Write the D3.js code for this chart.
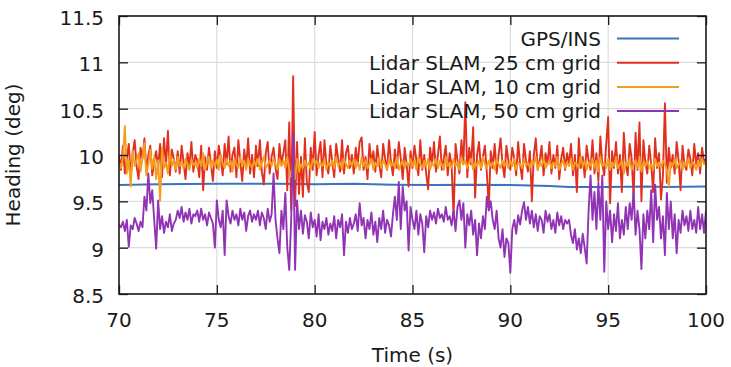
<!DOCTYPE html>
<html>
<head>
<meta charset="utf-8">
<script src="https://cdn.jsdelivr.net/npm/d3@7"></script>
<style>
  body { margin: 0; background: #fff; }
  text { font-family: "DejaVu Sans", sans-serif; fill: #1a1a1a; }
</style>
</head>
<body>
<script>
// chart size and plot box
const width = 731;
const height = 367;
const margin = { top: 16, right: 25, bottom: 73, left: 119 };

// samples every 0.1 s from 70 s to 100 s
const startTime = 70;
const sampleStep = 0.1;

const xTicks = [70, 75, 80, 85, 90, 95, 100];
const yTicks = [8.5, 9, 9.5, 10, 10.5, 11, 11.5];

const seriesNames = [
  "GPS/INS",
  "Lidar SLAM, 25 cm grid",
  "Lidar SLAM, 10 cm grid",
  "Lidar SLAM, 50 cm grid",
];
const seriesColors = ["#3b73c0", "#e2301f", "#f59d1e", "#9133b5"];

// GPS/INS reference heading (smooth)
const gpsTime = [70, 72, 75, 78, 80, 82, 84, 86, 88, 90, 92, 93, 95, 97, 98, 100];
const gpsHeading = [9.675, 9.685, 9.69, 9.69, 9.685, 9.69, 9.68, 9.675, 9.68, 9.675, 9.665, 9.655, 9.655, 9.66, 9.655, 9.66];

// Lidar SLAM, 25 cm grid
const slam25 = [
  10.00, 9.84, 10.10, 9.80, 9.96, 10.12, 9.76, 10.02, 10.16, 9.88,
  9.74, 10.08, 9.96, 10.18, 9.82, 10.00, 10.10, 9.78, 9.94, 10.04,
  9.86, 10.12, 9.76, 10.18, 9.88, 10.26, 9.78, 10.06, 9.96, 9.82,
  10.04, 9.80, 10.10, 9.92, 9.74, 10.02, 9.88, 10.14, 9.82, 10.00,
  9.94, 9.76, 10.10, 9.62, 9.98, 9.84, 10.08, 9.90, 9.72, 10.04,
  9.86, 10.10, 9.96, 9.78, 10.12, 9.90, 10.20, 9.82, 10.00, 10.08,
  9.76, 10.16, 9.92, 9.72, 10.06, 9.86, 10.18, 9.80, 10.00, 9.76,
  10.10, 9.88, 10.16, 9.82, 9.68, 10.02, 10.14, 9.80, 9.98, 10.08,
  9.86, 9.74, 10.12, 9.90, 10.02, 10.16, 9.62, 10.35, 9.40, 10.85,
  9.45, 10.14, 9.58, 9.98, 9.55, 10.18, 9.70, 9.60, 10.08, 9.84,
  10.25, 9.78, 10.00, 10.14, 9.76, 10.16, 9.90, 9.80, 10.10, 9.92,
  9.76, 10.12, 9.96, 9.82, 10.16, 9.80, 10.02, 10.10, 9.86, 10.00,
  9.80, 10.08, 9.90, 10.14, 10.19, 9.84, 9.98, 9.74, 10.12, 9.92,
  10.04, 9.82, 10.10, 9.90, 9.76, 10.12, 9.96, 9.84, 10.16, 9.92,
  9.78, 10.06, 9.86, 10.14, 9.96, 9.74, 10.08, 9.90, 9.66, 10.04,
  9.86, 10.10, 9.94, 9.78, 10.16, 9.84, 10.00, 9.80, 9.63, 10.08,
  9.90, 10.14, 9.82, 10.00, 10.20, 9.84, 9.96, 10.10, 9.78, 10.02,
  9.88, 9.33, 10.12, 9.94, 9.80, 10.16, 9.90, 10.57, 9.76, 10.08,
  9.90, 10.30, 9.54, 10.00, 10.14, 9.84, 9.98, 10.10, 9.80, 9.44,
  10.04, 9.86, 10.12, 9.80, 10.00, 10.18, 9.90, 9.76, 10.10, 9.94,
  9.84, 10.08, 9.96, 9.78, 10.14, 9.90, 9.74, 10.12, 9.94, 9.82,
  10.04, 9.50, 10.00, 10.18, 9.84, 9.94, 10.10, 9.78, 10.02, 9.90,
  10.14, 9.80, 10.00, 9.86, 10.10, 9.74, 9.96, 10.08, 9.84, 10.02,
  9.90, 10.12, 9.78, 10.00, 9.60, 10.18, 9.86, 9.98, 9.76, 10.10,
  9.94, 9.84, 10.16, 9.80, 10.02, 9.72, 10.20, 9.90, 9.78, 10.12,
  10.41, 9.48, 10.04, 9.86, 10.14, 9.80, 10.00, 9.60, 10.24, 9.90,
  9.78, 10.12, 9.96, 9.55, 10.24, 9.84, 10.35, 9.50, 10.16, 9.92,
  9.80, 10.10, 9.90, 9.60, 10.18, 9.86, 10.02, 9.52, 9.78, 10.56,
  9.70, 10.08, 9.86, 10.00, 9.80, 10.14, 9.94, 9.62, 10.10, 9.90,
  9.84, 10.06, 9.96, 9.78, 10.12, 9.90, 10.02, 9.80, 10.08, 9.92,
  9.96,
];

// Lidar SLAM, 10 cm grid
const slam10 = [
  9.92, 9.86, 9.98, 10.31, 9.80, 9.95, 9.66, 10.05, 9.88, 9.94,
  10.02, 9.82, 9.96, 10.13, 9.78, 9.90, 10.06, 9.85, 9.98, 9.74,
  9.94, 9.51, 10.08, 9.86, 9.92, 9.80, 10.04, 9.88, 9.95, 9.84,
  9.98, 9.88, 9.93, 9.85, 9.96, 9.90, 9.84, 9.95, 9.89, 9.92,
  9.86, 9.96, 9.88, 10.02, 9.84, 9.92, 9.98, 9.86, 9.94, 9.88,
  9.95, 9.84, 10.00, 9.90, 9.86, 9.96, 9.88, 9.94, 9.82, 9.96,
  9.90, 9.86, 9.98, 9.88, 9.94, 9.84, 9.96, 9.90, 9.86, 9.94,
  9.88, 9.96, 9.84, 9.92, 9.98, 9.86, 9.90, 9.94, 9.88, 9.96,
  9.90, 9.84, 9.96, 9.88, 9.94, 9.86, 9.98, 9.84, 9.76, 9.92,
  9.74, 9.96, 9.82, 9.90, 9.86, 9.94, 9.88, 9.92, 9.84, 9.96,
  9.90, 9.94, 9.86, 9.92, 9.88, 9.96, 9.84, 9.92, 9.88, 9.94,
  9.86, 9.98, 9.88, 9.92, 9.84, 9.96, 9.90, 9.86, 9.94, 9.88,
  9.96, 9.86, 9.92, 9.84, 9.98, 9.88, 9.94, 9.86, 9.90, 9.96,
  9.84, 9.92, 9.88, 9.98, 9.86, 9.94, 9.90, 9.84, 9.96, 9.88,
  9.92, 9.86, 9.98, 9.84, 9.90, 9.94, 9.86, 9.92, 9.88, 9.96,
  9.88, 9.94, 9.84, 9.98, 9.90, 9.86, 9.94, 9.88, 9.96, 9.84,
  9.92, 9.88, 9.96, 9.86, 9.94, 9.90, 9.84, 9.98, 9.88, 9.92,
  9.86, 9.96, 9.88, 9.92, 9.84, 9.98, 9.90, 9.94, 9.86, 9.92,
  9.96, 9.84, 9.92, 9.88, 9.94, 9.86, 9.98, 9.90, 9.86, 9.94,
  9.88, 9.92, 9.84, 9.96, 9.90, 9.86, 9.94, 9.88, 9.92, 9.86,
  9.94, 9.88, 9.96, 9.84, 9.92, 9.90, 9.86, 9.96, 9.88, 9.92,
  9.86, 9.94, 9.90, 9.98, 9.84, 9.92, 9.88, 9.96, 9.86, 9.90,
  9.94, 9.86, 9.92, 9.88, 9.98, 9.84, 9.90, 9.94, 9.86, 9.92,
  9.88, 9.96, 9.84, 9.92, 9.90, 9.86, 9.98, 9.88, 9.94, 9.84,
  9.92, 9.88, 9.96, 9.86, 9.94, 9.82, 9.98, 9.88, 9.92, 9.86,
  9.96, 9.84, 9.92, 9.88, 9.98, 9.86, 9.90, 9.94, 9.80, 9.92,
  9.88, 9.96, 9.84, 9.90, 9.94, 9.86, 9.98, 9.82, 9.92, 9.88,
  9.94, 9.86, 9.90, 9.84, 9.96, 9.88, 9.92, 9.86, 9.94, 9.90,
  9.84, 9.66, 9.92, 9.88, 9.96, 9.86, 9.90, 9.94, 9.84, 9.92,
  9.88, 9.96, 9.86, 9.92, 9.90, 9.84, 9.94, 9.88, 9.96, 9.90,
  9.92,
];

// Lidar SLAM, 50 cm grid
const slam50 = [
  9.25, 9.22, 9.28, 9.18, 9.30, 9.01, 9.24, 9.20, 9.32, 9.26,
  9.18, 9.28, 9.22, 9.55, 9.40, 9.80, 9.48, 9.62, 9.30, 8.99,
  9.51, 9.20, 9.34, 9.16, 9.28, 9.22, 9.36, 9.18, 9.26, 9.30,
  9.40, 9.32, 9.44, 9.28, 9.38, 9.30, 9.42, 9.26, 9.36, 9.34,
  9.40, 9.28, 9.42, 9.30, 9.36, 9.24, 9.38, 9.32, 9.26, 9.00,
  9.51, 9.30, 9.22, 9.40, 8.92, 9.51, 9.34, 9.26, 9.40, 9.30,
  9.36, 9.24, 9.42, 9.30, 9.38, 9.18, 9.34, 9.40, 9.28, 9.36,
  9.30, 9.40, 9.24, 9.38, 9.32, 9.20, 9.42, 9.28, 9.36, 9.80,
  9.30, 9.10, 8.94, 9.40, 9.20, 9.59, 9.00, 8.76, 9.30, 10.23,
  8.76, 9.51, 9.20, 9.40, 9.15, 9.35, 9.28, 9.10, 9.38, 9.22,
  9.30, 9.12, 9.36, 9.08, 9.28, 9.20, 9.32, 9.14, 9.26, 9.18,
  9.34, 9.10, 9.30, 9.22, 9.36, 8.92, 9.28, 9.16, 9.32, 9.20,
  9.26, 9.36, 9.18, 9.48, 9.24, 9.32, 9.10, 9.30, 9.20, 9.38,
  9.14, 9.28, 9.06, 9.32, 9.20, 9.40, 9.16, 9.30, 9.24, 9.12,
  9.36, 9.55, 9.30, 9.71, 9.20, 9.66, 9.40, 9.50, 8.97, 9.44,
  9.30, 9.20, 9.40, 9.14, 9.36, 9.26, 8.95, 9.34, 9.22, 9.40,
  9.30, 9.38, 9.26, 9.42, 9.32, 9.36, 9.28, 9.44, 9.30, 9.34,
  9.24, 9.40, 9.18, 9.44, 9.51, 9.30, 9.48, 9.00, 9.36, 9.24,
  9.40, 9.14, 9.30, 8.92, 9.26, 9.10, 9.34, 9.20, 9.55, 9.40,
  9.50, 9.30, 9.20, 9.40, 9.10, 9.00, 9.20, 8.90, 9.10, 9.05,
  8.73, 9.20, 9.30, 9.15, 9.35, 9.25, 9.40, 9.49, 9.30, 9.44,
  9.26, 9.40, 9.22, 9.36, 9.18, 9.34, 9.30, 9.16, 9.40, 9.28,
  9.36, 9.20, 9.30, 9.16, 9.38, 9.24, 9.34, 9.20, 9.30, 9.26,
  9.30, 9.14, 9.05, 9.20, 8.98, 9.10, 8.94, 9.15, 9.00, 8.83,
  9.40, 9.78, 9.30, 9.60, 9.20, 9.70, 9.30, 9.78, 8.74, 9.50,
  9.20, 9.40, 9.06, 9.36, 9.18, 9.48, 9.10, 9.30, 9.14, 9.44,
  9.20, 9.48, 9.30, 9.62, 9.14, 9.40, 9.20, 8.77, 9.36, 9.10,
  9.40, 9.20, 9.62, 9.06, 9.68, 9.30, 9.44, 9.10, 9.34, 8.92,
  9.59, 9.20, 9.50, 9.10, 9.36, 8.94, 9.30, 9.16, 9.40, 9.24,
  9.34, 9.18, 9.40, 9.20, 9.30, 9.16, 9.44, 9.20, 9.36, 9.16,
  9.40,
];

const toPoints = (values) =>
  values.map((v, i) => ({ t: startTime + i * sampleStep, v }));

const series = [
  gpsTime.map((t, i) => ({ t, v: gpsHeading[i] })),
  toPoints(slam25),
  toPoints(slam10),
  toPoints(slam50),
];

const svg = d3
  .select("body")
  .append("svg")
  .attr("width", width)
  .attr("height", height);

const x = d3
  .scaleLinear()
  .domain([70, 100])
  .range([margin.left, width - margin.right]);

const y = d3
  .scaleLinear()
  .domain([8.5, 11.5])
  .range([height - margin.bottom, margin.top]);

const x0 = x.range()[0];
const x1 = x.range()[1];
const y0 = y.range()[0];
const y1 = y.range()[1];

// grid lines
svg
  .append("g")
  .selectAll("line")
  .data(xTicks.slice(1, -1))
  .join("line")
  .attr("x1", (d) => x(d))
  .attr("x2", (d) => x(d))
  .attr("y1", y0)
  .attr("y2", y1)
  .attr("stroke", "#dcdcdc")
  .attr("stroke-width", 1.2);

svg
  .append("g")
  .selectAll("line")
  .data(yTicks.slice(1, -1))
  .join("line")
  .attr("x1", x0)
  .attr("x2", x1)
  .attr("y1", (d) => y(d))
  .attr("y2", (d) => y(d))
  .attr("stroke", "#dcdcdc")
  .attr("stroke-width", 1.2);

// data lines, clipped to the plot box
svg
  .append("clipPath")
  .attr("id", "plot-clip")
  .append("rect")
  .attr("x", x0)
  .attr("y", y1)
  .attr("width", x1 - x0)
  .attr("height", y0 - y1);

const line = d3
  .line()
  .x((d) => x(d.t))
  .y((d) => y(d.v));

svg
  .append("g")
  .attr("clip-path", "url(#plot-clip)")
  .selectAll("path")
  .data(series)
  .join("path")
  .attr("d", line)
  .attr("fill", "none")
  .attr("stroke", (d, i) => seriesColors[i])
  .attr("stroke-width", (d, i) => (i === 0 ? 2 : 1.9))
  .attr("stroke-linejoin", "round");

// axes: inward ticks on all four sides, no labels on top/right
const tickLen = 9;
const axisX = d3.axisBottom(x).tickValues(xTicks).tickSize(-tickLen).tickFormat("");
const axisXTop = d3.axisTop(x).tickValues(xTicks).tickSize(-tickLen).tickFormat("");
const axisY = d3.axisLeft(y).tickValues(yTicks).tickSize(-tickLen).tickFormat("");
const axisYRight = d3.axisRight(y).tickValues(yTicks).tickSize(-tickLen).tickFormat("");

[
  [axisX, `translate(0,${y0})`],
  [axisXTop, `translate(0,${y1})`],
  [axisY, `translate(${x0},0)`],
  [axisYRight, `translate(${x1},0)`],
].forEach(([ax, tr]) => {
  const g = svg.append("g").attr("transform", tr).call(ax);
  g.select(".domain").remove();
  g.selectAll("line").attr("stroke", "#1a1a1a").attr("stroke-width", 1.3);
});

// plot border
svg
  .append("rect")
  .attr("x", x0)
  .attr("y", y1)
  .attr("width", x1 - x0)
  .attr("height", y0 - y1)
  .attr("fill", "none")
  .attr("stroke", "#1a1a1a")
  .attr("stroke-width", 1.6);

// tick labels
svg
  .append("g")
  .selectAll("text")
  .data(xTicks)
  .join("text")
  .attr("x", (d) => x(d))
  .attr("y", y0 + 33)
  .attr("text-anchor", "middle")
  .attr("font-size", 20)
  .text((d) => d);

svg
  .append("g")
  .selectAll("text")
  .data(yTicks)
  .join("text")
  .attr("x", x0 - 15)
  .attr("y", (d) => y(d) + 9)
  .attr("text-anchor", "end")
  .attr("font-size", 20)
  .text((d) => d);

// axis titles
svg
  .append("text")
  .attr("x", (x0 + x1) / 2)
  .attr("y", 362)
  .attr("text-anchor", "middle")
  .attr("font-size", 20)
  .text("Time (s)");

svg
  .append("text")
  .attr("transform", `translate(20,${(y0 + y1) / 2}) rotate(-90)`)
  .attr("text-anchor", "middle")
  .attr("font-size", 20)
  .text("Heading (deg)");

// legend
const legend = svg
  .append("g")
  .selectAll("g")
  .data(seriesNames)
  .join("g")
  .attr("transform", (d, i) => `translate(0,${38.5 + i * 24.2})`);

legend
  .append("text")
  .attr("x", 601)
  .attr("y", 7)
  .attr("text-anchor", "end")
  .attr("font-size", 20)
  .text((d) => d);

legend
  .append("line")
  .attr("x1", 617)
  .attr("x2", 679)
  .attr("y1", 0)
  .attr("y2", 0)
  .attr("stroke", (d, i) => seriesColors[i])
  .attr("stroke-width", 2);
</script>
</body>
</html>
